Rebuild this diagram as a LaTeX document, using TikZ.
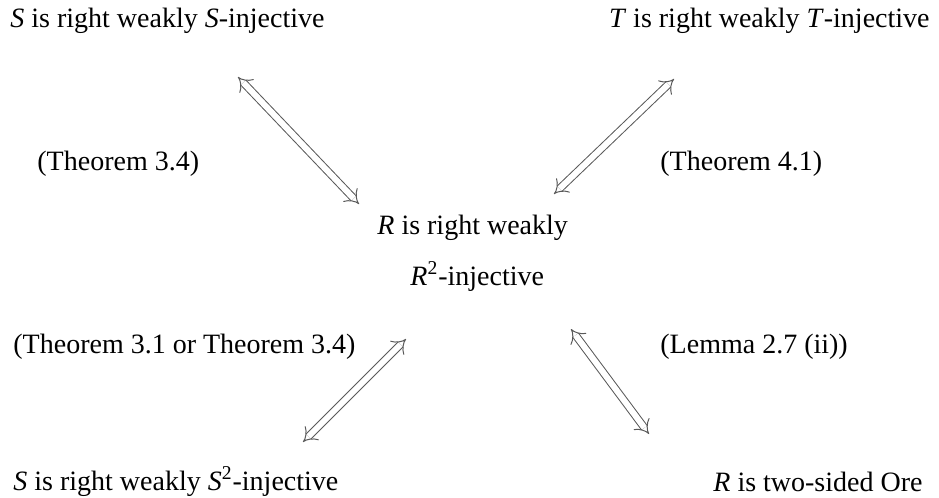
\documentclass[tikz,border=0pt]{standalone}
\usepackage{fontspec}
\setmainfont{Liberation Serif}
\usepackage{tikz}
\usetikzlibrary{arrows.meta}

\tikzset{
    stmt/.style={inner sep=0pt, anchor=base west, font=\fontsize{14}{16}\selectfont},
    equiv/.style={{Implies}-{Implies}, double, double distance=3pt, line width=0.5pt, draw=black!65},
}

\begin{document}
\begin{tikzpicture}[x=0.5pt,y=-0.5pt]
    \useasboundingbox (0,0) rectangle (939,498);

    \node[stmt] (sweak) at (10,27) {\textit{S} is right weakly \textit{S}-injective};
    \node[stmt, anchor=base east] (tweak) at (930,27) {\textit{T} is right weakly \textit{T}-injective};
    \node[stmt] (rweak) at (377,234) {\textit{R} is right weakly};
    \node[stmt] (rinj) at (410,285) {\textit{R}\textsuperscript{2}-injective};
    \node[stmt] (ssq) at (13,490) {\textit{S} is right weakly \textit{S}\textsuperscript{2}-injective};
    \node[stmt] (ore) at (713,491) {\textit{R} is two-sided Ore};

    \node[stmt] (thm34) at (37,170) {(Theorem 3.4)};
    \node[stmt] (thm41) at (660,170) {(Theorem 4.1)};
    \node[stmt] (thm31) at (13,353) {(Theorem 3.1 or Theorem 3.4)};
    \node[stmt] (lem27) at (660,353) {(Lemma 2.7 (ii))};

    % arrow ends
    \coordinate (a1) at (238,77);
    \coordinate (a2) at (359,204);
    \coordinate (b1) at (674,79);
    \coordinate (b2) at (554,194);
    \coordinate (c1) at (406,339);
    \coordinate (c2) at (303,442);
    \coordinate (d1) at (571,329);
    \coordinate (d2) at (649,434);

    \draw[equiv] (a1) -- (a2);
    \draw[equiv] (b2) -- (b1);
    \draw[equiv] (c2) -- (c1);
    \draw[equiv] (d1) -- (d2);
\end{tikzpicture}
\end{document}
